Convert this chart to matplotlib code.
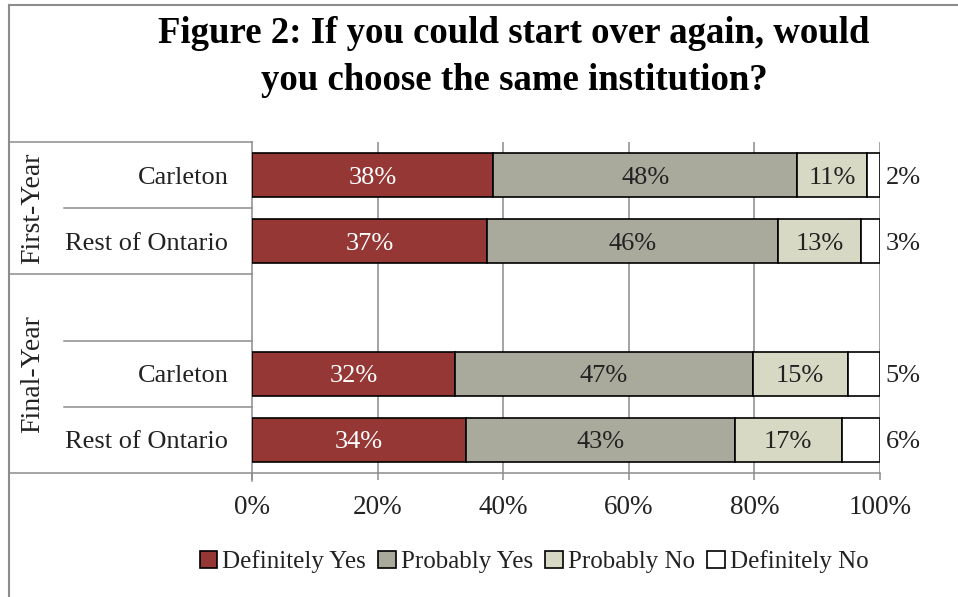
import matplotlib
matplotlib.use("Agg")
import matplotlib.pyplot as plt
import matplotlib.transforms as mtransforms
from matplotlib.lines import Line2D
from matplotlib.patches import Patch

# ---- data ----
categories = ["Carleton", "Rest of Ontario", "", "Carleton", "Rest of Ontario"]
groups = ["First-Year", "Final-Year"]
series_names = ["Definitely Yes", "Probably Yes", "Probably No", "Definitely No"]
definitely_yes = [38.4, 37.4, None, 32.3, 34.0]
probably_yes = [48.4, 46.4, None, 47.4, 42.9]
probably_no = [11.1, 13.2, None, 15.2, 17.0]
definitely_no = [2.1, 3.0, None, 5.1, 6.1]
tick_values = [0, 20, 40, 60, 80, 100]
tick_labels = ["0%", "20%", "40%", "60%", "80%", "100%"]

colors = ["#953735", "#A9AA9C", "#D8D9C4", "#FFFFFF"]
text_colors = ["white", "#222222", "#222222", "#222222"]

plt.rcParams['font.family'] = ['Liberation Serif', 'DejaVu Serif']

W, H = 958, 597
fig = plt.figure(figsize=(W / 100, H / 100), dpi=100)

x0, x1 = 252, 880
y0, y1 = 142, 473
ax = fig.add_axes([x0 / W, 1 - y1 / H, (x1 - x0) / W, (y1 - y0) / H])

series = [definitely_yes, probably_yes, probably_no, definitely_no]
n = len(categories)
ypos = list(range(n))
bar_h = 0.66
lab_fs = 19
for i in range(n):
    if definitely_yes[i] is None:
        continue
    left = 0.0
    for s, (vals, c, tc) in enumerate(zip(series, colors, text_colors)):
        v = vals[i]
        ax.barh(ypos[i], v, left=left, height=bar_h, color=c,
                edgecolor="black", linewidth=1.2, zorder=3)
        lab = f"{round(v)}%"
        if s < 3:
            ax.text(left + v / 2, ypos[i], lab, ha="center", va="center_baseline",
                    color=tc, fontsize=lab_fs, zorder=4)
        else:
            ax.text(left + v + 0.9, ypos[i], lab, ha="left", va="center_baseline",
                    color="#222222", fontsize=lab_fs, zorder=4, clip_on=False)
        left += v

ax.set_xlim(0, 100)
ax.set_ylim(n - 0.5, -0.5)
ax.set_xticks(tick_values)
ax.set_xticklabels(tick_labels, fontsize=19.5, color="#222222")
ax.set_yticks(ypos)
ax.set_yticklabels(categories, fontsize=19, color="#222222")
for t in ax.get_yticklabels():
    t.set_verticalalignment("center_baseline")
ax.tick_params(axis="y", length=0, pad=17)
ax.tick_params(axis="x", length=5, width=1.1, color="#8c8c8c", pad=11)

grid_c = "#8c8c8c"
for t in tick_values[1:]:
    ax.axvline(t, color=grid_c, lw=1.1, zorder=1)
for sp in ["top", "right"]:
    ax.spines[sp].set_visible(False)
ax.spines["left"].set_color(grid_c)
ax.spines["left"].set_linewidth(1.1)
ax.spines["bottom"].set_color(grid_c)
ax.spines["bottom"].set_linewidth(1.1)

# table lines on the left (x in axes coords, y in data coords)
trans = mtransforms.blended_transform_factory(ax.transAxes, ax.transData)
x_outer = (8.5 - x0) / (x1 - x0)
x_inner = (64 - x0) / (x1 - x0)
boundaries = [(-0.5, x_outer), (0.5, x_inner), (1.5, x_outer),
              (2.5, x_inner), (3.5, x_inner), (4.5, x_outer)]
for yb, xs in boundaries:
    ax.add_line(Line2D([xs, 0], [yb, yb], transform=trans, color=grid_c,
                       lw=1.1, clip_on=False))
ax.add_line(Line2D([0, 0], [4.5, 4.62], transform=trans, color=grid_c,
                   lw=1.1, clip_on=False))

# group labels
x_grp = (33 - x0) / (x1 - x0)
ax.text(x_grp, 0.5, groups[0], transform=trans, rotation=90, ha="center",
        va="center", fontsize=20, color="#222222")
ax.text(x_grp, 3.0, groups[1], transform=trans, rotation=90, ha="center",
        va="center", fontsize=20, color="#222222")

# figure border (left and top)
fig.add_artist(Line2D([8.5 / W, 8.5 / W], [0, 1 - 4.5 / H],
                      transform=fig.transFigure, color="#8c8c8c", lw=1.5))
fig.add_artist(Line2D([8.5 / W, 1], [1 - 4.5 / H, 1 - 4.5 / H],
                      transform=fig.transFigure, color="#8c8c8c", lw=1.5))

# title
fig.text(514 / W, 1 - 57 / H,
         "Figure 2: If you could start over again, would\nyou choose the same institution?",
         ha="center", va="center", fontsize=26.5, fontweight="bold",
         linespacing=1.45, color="black")

# legend
handles = [Patch(facecolor=c, edgecolor="black", linewidth=1.2) for c in colors]
fig.legend(handles, series_names, loc="center", bbox_to_anchor=(534 / W, 1 - 562 / H),
           ncol=4, frameon=False, fontsize=18, handlelength=0.7, handleheight=0.7,
           handletextpad=0.2, columnspacing=0.5, labelcolor="#222222")

fig.savefig("out.png", dpi=100, facecolor="white")
